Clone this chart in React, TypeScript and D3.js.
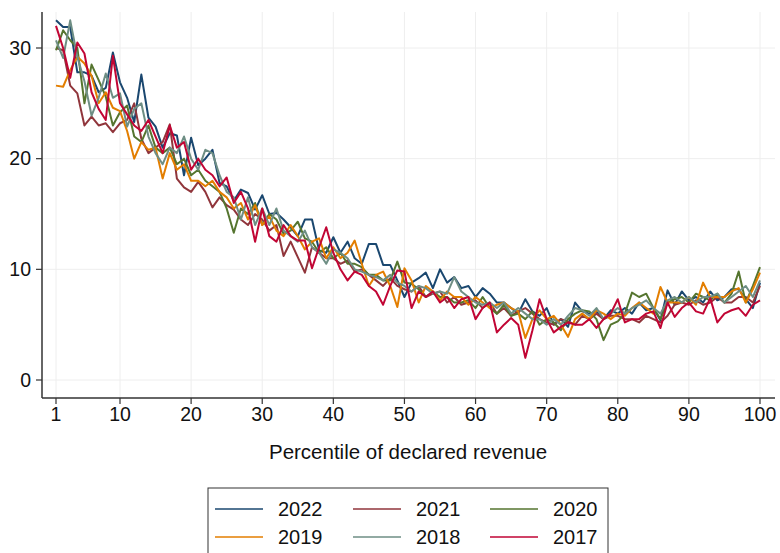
import React from "react";
import * as d3 from "d3";

const years = ["2022", "2021", "2020", "2019", "2018", "2017"];
const colors = ["#1a476f", "#90353b", "#55752f", "#e37e00", "#6e8e84", "#c10534"];

const xTicks = [1, 10, 20, 30, 40, 50, 60, 70, 80, 90, 100];
const yTicks = [0, 10, 20, 30];

const s2022 = [
  32.5, 31.9, 31.9, 27.8, 27.8, 27.5, 26.0, 26.4, 29.6, 26.9,
  25.5, 23.3, 27.6, 23.7, 22.9, 21.0, 22.3, 22.1, 18.5, 21.9,
  19.4, 20.0, 20.8, 17.8, 17.5, 16.2, 17.2, 16.9, 15.4, 16.7,
  15.0, 15.1, 14.5, 13.8, 13.0, 14.5, 14.5, 11.7, 11.5, 12.9,
  11.5, 12.5, 11.0, 10.5, 12.3, 12.3, 10.4, 10.4, 9.0, 7.5,
  8.8, 9.2, 9.7, 8.3, 10.0, 8.8, 9.3, 8.3, 8.5, 7.5,
  8.3, 7.8, 7.0, 7.0, 6.5, 6.0, 7.3, 6.2, 5.8, 6.5,
  5.0, 5.5, 4.8, 7.0, 6.2, 6.0, 6.2, 5.5, 6.3, 6.0,
  6.5, 6.0, 7.0, 6.3, 6.5, 5.4, 8.1, 6.8, 8.0, 7.2,
  7.5, 7.0, 8.0, 7.2, 7.5, 8.2, 8.2, 7.3, 6.5, 8.8,
];

const s2021 = [
  30.0, 29.8, 26.6, 25.9, 23.0, 23.8, 23.0, 23.2, 22.4, 23.2,
  23.5, 25.0, 21.8, 20.5, 21.0, 21.5, 23.1, 18.2, 17.4, 17.0,
  17.9, 17.0, 15.6, 16.5, 15.8, 15.4, 14.5, 14.0, 15.0, 14.5,
  13.5, 14.0, 11.2, 12.5, 11.1, 9.7, 12.0, 11.5, 11.0, 11.0,
  10.5, 10.8, 9.8, 10.0, 9.5, 9.0, 8.5, 9.2, 8.5, 8.2,
  8.0, 8.5, 7.5, 7.8, 8.0, 7.0, 7.5, 6.8, 7.0, 7.2,
  6.5, 7.0, 6.0, 6.5, 5.8, 6.2, 6.5, 6.0, 5.5, 5.2,
  5.0, 5.5, 5.3, 5.0, 5.8, 5.5, 6.0, 5.5, 5.8, 5.8,
  5.5, 5.5, 5.2, 5.8, 5.5, 5.2, 5.8, 6.8, 7.0, 6.8,
  7.2, 6.8, 7.0, 7.5, 7.0, 7.0, 7.5, 7.5, 7.0, 8.5,
];

const s2020 = [
  29.8, 31.6, 30.7, 30.0, 25.0, 28.5, 27.1, 25.6, 23.0, 24.2,
  24.8, 22.0, 21.5, 23.0, 21.0, 20.5, 21.0, 19.5, 20.0, 18.5,
  19.0, 18.0, 17.5, 17.0, 15.5, 13.3, 15.5, 15.0, 16.0, 14.0,
  15.0, 14.5, 13.2, 13.5, 14.3, 12.8, 12.5, 11.5, 12.0, 11.0,
  11.5, 10.5, 10.5, 10.2, 9.5, 9.5, 9.0, 9.0, 10.7, 8.8,
  8.7, 8.2, 7.5, 8.0, 7.5, 7.5, 7.0, 7.0, 7.2, 6.5,
  7.5, 6.5, 6.0, 6.8, 5.8, 6.0, 5.5, 6.2, 5.0, 5.5,
  5.2, 4.5, 5.5, 6.0, 6.3, 6.2, 5.5, 3.6, 5.0, 5.3,
  6.0, 7.9, 7.5, 7.8, 6.5, 5.5, 7.0, 7.3, 7.5, 7.0,
  7.8, 7.5, 7.2, 7.8, 7.0, 7.8, 9.8, 7.0, 8.5, 10.2,
];

const s2019 = [
  26.6, 26.5, 28.0, 29.2, 28.6, 27.5, 25.0, 26.0, 24.6, 24.3,
  22.5, 20.0, 21.5, 20.8, 21.0, 18.2, 20.5, 19.0, 19.5, 18.0,
  18.0, 17.5, 18.0, 17.0, 16.5, 15.5, 16.0, 14.5, 15.8, 14.0,
  14.8, 13.5, 13.0, 14.0, 13.0, 11.8, 12.5, 12.8, 11.0, 12.0,
  11.0, 11.5, 12.6, 10.5, 8.5, 9.5, 9.8, 8.5, 6.6, 10.1,
  9.0, 7.0, 8.5, 8.0, 7.2, 8.0, 7.5, 7.5, 6.8, 7.5,
  7.0, 6.5, 6.8, 7.0, 6.5, 6.2, 3.8, 5.5, 6.3, 5.5,
  5.8, 5.0, 3.9, 5.5, 6.0, 5.5, 6.3, 6.0, 5.5, 6.0,
  5.8, 6.5, 7.0, 6.5, 6.0, 8.4, 7.0, 7.0, 7.0, 7.5,
  6.8, 8.8, 7.5, 7.5, 7.5, 8.0, 8.3, 7.0, 8.2, 9.7,
];

const s2018 = [
  30.7, 29.1, 32.5, 29.2, 27.0, 23.9, 25.5, 27.7, 25.5, 25.9,
  22.9, 24.5, 25.0, 22.0, 20.5, 19.5, 21.0, 20.5, 22.0, 20.0,
  19.0, 20.8, 20.5, 18.5, 17.0, 16.5, 14.5, 16.5, 14.0, 15.5,
  14.0, 15.5, 13.5, 13.0, 12.5, 13.5, 12.0, 11.5, 10.5, 11.8,
  11.5, 11.0, 10.0, 9.8, 9.5, 9.3, 9.0, 9.5, 8.8, 8.5,
  8.0, 8.5, 8.3, 7.8, 8.0, 7.8, 9.3, 8.0, 7.5, 7.0,
  6.8, 7.0, 6.5, 7.0, 6.0, 6.5, 6.0, 5.5, 5.5, 5.0,
  5.5, 5.0, 5.8, 6.5, 6.3, 5.8, 6.5, 5.5, 6.0, 6.5,
  6.0, 6.5, 6.8, 7.2, 6.5, 6.0, 7.2, 7.5, 7.0, 7.5,
  7.0, 7.5, 7.5, 7.8, 7.0, 7.5, 8.0, 8.5, 7.5, 9.0,
];

const s2017 = [
  32.0, 30.0, 27.3, 30.5, 29.5, 26.0, 24.5, 23.5, 29.3, 25.0,
  24.0, 23.0, 22.5, 23.5, 22.0, 20.5, 23.0, 21.0, 21.5, 19.0,
  20.0, 19.0, 18.5, 17.5, 18.3, 16.0, 17.0, 15.5, 12.5, 15.5,
  13.0, 12.5, 14.0, 13.0, 12.6, 12.6, 10.1, 12.0, 13.8, 11.5,
  10.0, 9.0, 9.8, 9.5, 8.5, 8.0, 6.8, 8.5, 9.9, 9.8,
  6.5, 8.0, 7.5, 8.0, 7.0, 7.5, 6.5, 7.3, 7.5, 5.5,
  6.5, 7.0, 4.3, 5.0, 5.6, 5.0, 2.0, 4.5, 7.3, 5.5,
  4.3, 4.8, 5.2, 5.0, 5.0, 5.5, 4.7, 5.5, 6.0, 7.3,
  5.2, 5.5, 5.5, 6.0, 6.2, 4.7, 7.0, 5.7, 6.5, 7.0,
  6.2, 6.0, 7.4, 5.2, 6.0, 6.3, 6.5, 5.8, 6.8, 7.2,
];

const seriesValues = [s2022, s2021, s2020, s2019, s2018, s2017];

const W = 780;
const H = 553;
const FONT = "'Liberation Sans', Arial, Helvetica, sans-serif";

export default function App() {
  const x = d3.scaleLinear().domain([1, 100]).range([56, 760]);
  const y = d3.scaleLinear().domain([0, 30]).range([380, 48]);
  const axisLeft = 42;
  const axisBottom = 398;
  const axisTop = 12;
  const axisRight = 775;

  const line = d3
    .line<number>()
    .x((_, i) => x(i + 1))
    .y((d) => y(d));

  const legendX = 208;
  const legendY = 488;
  const colX = [0, 138, 275];
  const rowY = [21, 49];

  return (
    <svg
      width={W}
      height={H}
      style={{ position: "absolute", left: 0, top: 0, background: "#fff" }}
      fontFamily={FONT}
    >
      <rect x={0} y={0} width={W} height={H} fill="#fff" />
      {yTicks.map((t) => (
        <line key={"gy" + t} x1={axisLeft} x2={axisRight} y1={y(t)} y2={y(t)} stroke="#eeeeee" strokeWidth={1} />
      ))}
      {xTicks.map((t) => (
        <line key={"gx" + t} x1={x(t)} x2={x(t)} y1={axisTop} y2={axisBottom} stroke="#eeeeee" strokeWidth={1} />
      ))}
      {seriesValues.map((vals, i) => (
        <path
          key={years[i]}
          d={line(vals) || ""}
          fill="none"
          stroke={colors[i]}
          strokeWidth={2}
          strokeLinejoin="round"
        />
      ))}
      <line x1={axisLeft} x2={axisLeft} y1={axisTop} y2={axisBottom} stroke="#333" strokeWidth={1.5} />
      <line x1={axisLeft} x2={axisRight} y1={axisBottom} y2={axisBottom} stroke="#333" strokeWidth={1.5} />
      {yTicks.map((t) => (
        <g key={"yt" + t}>
          <line x1={axisLeft - 6} x2={axisLeft} y1={y(t)} y2={y(t)} stroke="#333" strokeWidth={1.2} />
          <text x={axisLeft - 11} y={y(t)} dy="0.35em" textAnchor="end" fontSize={19.5} fill="#111">
            {t}
          </text>
        </g>
      ))}
      {xTicks.map((t) => (
        <g key={"xt" + t}>
          <line x1={x(t)} x2={x(t)} y1={axisBottom} y2={axisBottom + 6} stroke="#333" strokeWidth={1.2} />
          <text x={x(t)} y={axisBottom + 23} textAnchor="middle" fontSize={19.5} fill="#111">
            {t}
          </text>
        </g>
      ))}
      <text x={408} y={459} textAnchor="middle" fontSize={20.5} fill="#111">
        Percentile of declared revenue
      </text>
      <rect x={legendX} y={legendY} width={400} height={80} fill="#fff" stroke="#333" strokeWidth={1} />
      {years.map((yr, i) => {
        const cx = legendX + colX[i % 3];
        const cy = legendY + rowY[Math.floor(i / 3)];
        return (
          <g key={"lg" + yr}>
            <line x1={cx + 7} x2={cx + 55} y1={cy} y2={cy} stroke={colors[i]} strokeWidth={1.5} />
            <text x={cx + 70} y={cy} dy="0.35em" fontSize={20} fill="#111">
              {yr}
            </text>
          </g>
        );
      })}
    </svg>
  );
}
